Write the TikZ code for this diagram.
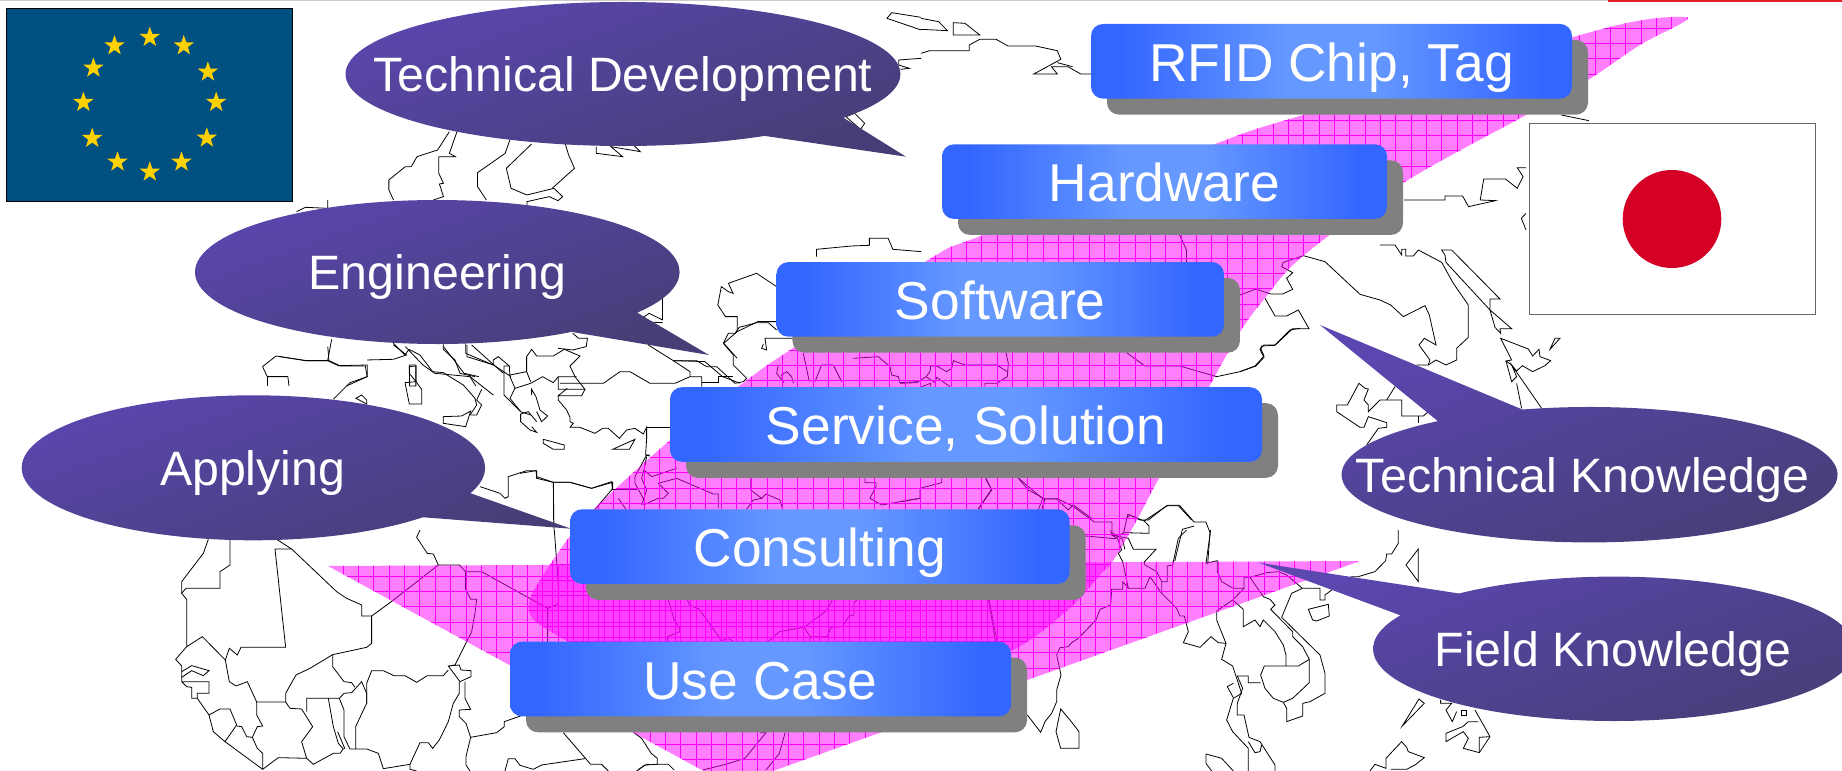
\documentclass[tikz,border=0pt]{standalone}
\usepackage{fontspec}
\setmainfont{Liberation Sans}
\usetikzlibrary{shadows,shapes.geometric}

\definecolor{boxBlue}{RGB}{51,102,255}
\definecolor{boxLight}{RGB}{102,153,255}
\definecolor{boxGray}{RGB}{128,128,128}
\definecolor{bubbleTop}{RGB}{92,70,176}
\definecolor{bubbleBottom}{RGB}{70,62,118}
\definecolor{euBlue}{RGB}{0,80,130}
\definecolor{euGold}{RGB}{255,209,0}
\definecolor{sunRed}{RGB}{213,0,37}
\definecolor{pinkFill}{RGB}{255,0,255}
\definecolor{topGray}{RGB}{204,204,204}
\definecolor{topRed}{RGB}{230,30,40}

\pgfdeclarehorizontalshading{boxramp}{100bp}{color(0bp)=(boxBlue); color(28bp)=(boxBlue); color(46bp)=(boxLight); color(54bp)=(boxLight); color(72bp)=(boxBlue); color(100bp)=(boxBlue)}

\tikzset{
  mapline/.style={line width=0.6pt,black},
  gridline/.style={line width=0.42pt,pinkFill},
  layerbox/.style={shade,shading=boxramp,rounded corners=9pt,inner sep=0pt,text=white,
    font=\fontsize{40}{47}\selectfont,text height=43pt,text depth=13pt,minimum width=#1*0.75pt,
    drop shadow={shadow xshift=12pt,shadow yshift=-12pt,fill=boxGray,opacity=1}},
  bubble/.style={top color=bubbleTop,bottom color=bubbleBottom,shading angle=20},
  bubbletext/.style={anchor=base,inner sep=0pt,text=white,font=\fontsize{36.2}{43}\selectfont},
  eustar/.style={star,star points=5,star point ratio=2.5,fill=euGold,inner sep=0pt,minimum size=16pt}
}

\begin{document}
\begin{tikzpicture}[x=0.75pt,y=0.75pt,yscale=-1,xscale=1]
\useasboundingbox (0,0) rectangle (1842,771);
\clip (0,0) rectangle (1842,771);

%Shape: Map, west Africa
\begin{scope}[shift={(170,530)},scale=0.3333]
\draw [mapline] (115,28)--(100,70)--(35,155)--(35,190)--(50,208)--(50,350)--(97,320)--(166,390)--(178,455)--(198,468)--(232,455)--(260,516)--(347,516)--(347,490)--(378,435)--(420,415)--(488,374);
\draw [mapline] (180,28)--(180,105)--(150,125)--(150,175)--(48,175)--(35,190);
\draw [mapline] (365,57)--(315,57)--(347,352)--(213,352)--(202,375)--(178,355)--(166,390);
\draw [mapline] (320,28)--(365,57)--(500,185)--(530,205)--(575,225)--(575,258)--(605,258)--(660,218)--(805,105)--(868,105)--(887,125)--(935,125)--(1133,235)--(1133,335);
\draw [mapline] (605,258)--(605,340)--(590,352)--(488,374)--(488,410)--(522,455)--(545,458)--(555,472);
\draw [mapline] (1153,0)--(1165,160)--(1165,222)--(1133,235);
\draw [mapline] (750,0)--(740,22)--(772,70)--(790,72)--(805,105);
\draw [mapline] (887,125)--(887,178)--(902,208)--(920,208)--(915,250)--(905,305)--(855,405)--(835,408)--(870,455)--(903,440)--(903,422)--(873,420)--(868,405)--(835,408);
\draw [mapline] (50,350)--(17,388)--(35,408)--(35,455)--(117,455)--(117,490)--(82,490)--(82,505)--(65,505)--(65,472)--(50,470)--(35,455);
\draw [mapline] (35,425)--(65,407)--(117,422)--(100,437)--(65,422)--(35,442);
\draw [mapline] (82,505)--(117,555)--(130,605)--(165,635)--(278,718)--(325,683)--(410,685)--(395,635)--(428,590)--(395,537)--(360,535)--(347,516);
\draw [mapline] (117,555)--(150,537)--(180,537)--(200,585)--(165,635);
\draw [mapline] (200,588)--(215,590)--(230,620)--(247,622)--(262,590)--(278,588)--(260,555)--(260,516);
\draw [mapline] (247,622)--(262,655)--(278,670)--(278,718);
\draw [mapline] (410,685)--(430,703)--(490,670)--(510,670)--(520,657)--(505,640)--(490,590)--(475,505)--(410,505)--(410,545);
\draw [mapline] (475,505)--(508,505)--(522,540)--(522,620)--(540,657)--(590,657)--(625,670)--(640,716)--(720,703)--(750,638)--(775,638)--(788,655)--(808,630)--(835,575)--(850,520)--(868,490)--(868,455);
\draw [mapline] (508,505)--(522,490)--(545,488)--(575,455)--(590,490)--(590,520)--(557,590)--(557,657);
\draw [mapline] (503,605)--(525,657);
\draw [mapline] (590,520)--(590,460)--(605,422)--(640,422)--(672,437)--(705,437)--(740,457)--(772,437)--(820,437)--(835,420);
\draw [mapline] (885,455)--(885,505)--(902,538)--(868,540)--(868,560)--(888,580)--(902,622)--(980,608)--(1003,590)--(1003,575)--(1060,555);
\draw [mapline] (902,622)--(888,680)--(888,705)--(900,723);
\draw [mapline] (1180,608)--(1262,703)--(1295,703)--(1315,723);
\draw [mapline] (1005,723)--(1015,686)--(1035,686)--(1050,706)--(1090,718)--(1115,705)--(1245,686);
\draw [mapline] (720,703)--(720,718)--(740,723);
\draw [mapline] (1400,723)--(1425,705)--(1440,703);
\end{scope}

%Shape: Map, under the lowest box
\begin{scope}[shift={(500,540)},xscale=0.3827,yscale=0.3333]
\draw [mapline] (350,578)--(370,595)--(395,640)--(411,655)--(411,673)--(440,673)--(455,690);
\draw [mapline] (411,673)--(380,675)--(360,690);
\draw [mapline] (680,578)--(695,578)--(640,655)--(590,673)--(530,690);
\draw [mapline] (745,578)--(730,640)--(695,690);
\draw [mapline] (440,180)--(455,240)--(470,265)--(470,275)--(438,290)--(438,305);
\draw [mapline] (490,180)--(495,195)--(520,207)--(575,295)--(575,305)--(595,293)--(610,305);
\draw [mapline] (700,305)--(730,275)--(795,262)--(855,210)--(868,180);
\draw [mapline] (795,262)--(810,290)--(810,305);
\draw [mapline] (810,290)--(855,290)--(865,262)--(895,260)--(912,228)--(925,225)--(925,190)--(932,180);
\draw [mapline] (1278,180)--(1300,310);
\end{scope}

%Shape: Map, south east Asia
\begin{scope}[shift={(1020,530)},scale=0.3333]
\draw [mapline] (22,555)--(62,607)--(75,575)--(95,550)--(110,515)--(110,480)--(123,435)--(110,375)--(120,353)--(145,350)--(155,338)--(175,325)--(228,270)--(240,238)--(272,225)--(275,178)--(308,178)--(308,155)--(325,175)--(375,175)--(390,140)--(425,190)--(470,235)--(480,258)--(493,258)--(505,305)--(490,338)--(540,352)--(573,320)--(595,338)--(618,340)--(605,388)--(638,408)--(665,490)--(640,505)--(620,570)--(638,605)--(685,655)--(685,723);
\draw [mapline] (425,190)--(425,155)--(442,155)--(442,108)--(458,105)--(475,25)--(500,0);
\draw [mapline] (272,0)--(275,15)--(292,25)--(305,60)--(295,70)--(308,95)--(325,175);
\draw [mapline] (275,15)--(325,25)--(340,58)--(408,58)--(372,97)--(375,105)--(410,125)--(408,105);
\draw [mapline] (410,125)--(425,155);
\draw [mapline] (572,0)--(558,100)--(592,92)--(592,125)--(605,155)--(640,175)--(672,175)--(638,210)--(590,243)--(590,270)--(618,340);
\draw [mapline] (638,210)--(670,238)--(670,290)--(705,270)--(720,290)--(730,270)--(765,305)--(790,345)--(798,375)--(798,408)--(835,408)--(868,388)--(868,458)--(818,505)--(790,517)--(760,505)--(735,475)--(722,435)--(733,408)--(798,408);
\draw [mapline] (672,175)--(672,142)--(690,142)--(740,128)--(775,125)--(800,135)--(847,175)--(900,175)--(900,210)--(915,210)--(915,195)--(938,178)--(995,140)--(1015,140)--(1065,125)--(1097,92)--(1100,72)--(1115,72)--(1135,40)--(1135,0);
\draw [mapline] (690,142)--(730,200)--(750,208)--(765,225)--(752,238)--(818,305)--(818,320)--(848,350)--(868,388);
\draw [mapline] (847,175)--(815,190)--(785,262)--(900,375)--(915,430)--(915,490)--(870,515)--(848,520)--(848,558)--(800,575)--(800,535)--(790,517);
\draw [mapline] (722,458)--(685,458)--(685,438)--(652,438)--(668,475)--(652,520)--(652,555)--(672,555)--(687,622)--(720,635)--(765,705)--(765,723);
\draw [mapline] (640,503)--(622,470)--(640,460);
\draw [mapline] (685,635)--(705,668)--(720,665)--(725,645);
\draw [mapline] (122,537)--(150,570)--(177,605)--(177,655)--(122,655)--(108,605)--cycle;
\draw [mapline] (865,238)--(925,223)--(928,258)--(890,273)--(878,270)--cycle;
\draw [mapline] (1195,57)--(1158,105)--(1195,155)--cycle;
\draw [mapline] (558,672)--(605,685)--(640,723);
\draw [mapline] (558,672)--(558,700)--(575,723);
\draw [mapline] (1147,588)--(1197,507)--(1213,520)--cycle;
\draw [mapline] (1050,723)--(1065,703)--(1098,715)--(1098,685)--(1145,635)--(1160,652)--(1165,665)--(1213,683)--(1185,705)--(1160,718)--(1112,718);
\draw [mapline] (1262,510)--(1262,520)--(1295,520)--(1278,540)--(1297,575)--(1310,545);
\draw [mapline] (1325,540)--(1340,540)--(1340,555)--(1325,555)--cycle;
\draw [mapline] (1365,540)--(1410,620)--(1378,668)--(1330,655)--(1345,625)--(1330,605)--(1278,635)--(1278,610)--(1328,590)--(1345,575)--(1375,575);
\draw [mapline] (1410,620)--(1378,622)--(1378,668);
\end{scope}

%Shape: Map, China and Japan
\begin{scope}[shift={(1240,230)},scale=0.3333]
\draw [mapline] (420,45)--(465,45)--(485,75)--(485,58)--(497,58)--(497,78)--(520,78)--(535,60)--(605,97)--(640,160)--(685,225)--(685,322)--(650,355)--(650,390)--(618,405)--(588,390)--(565,405)--(530,405);
\draw [mapline] (565,405)--(570,390)--(537,345)--(553,325)--(588,345)--(568,255)--(555,227)--(490,260)--(452,225)--(420,210)--(360,193)--(255,95)--(190,77)--(130,97)--(125,110)--(158,128)--(140,145)--(158,178)--(128,192)--(92,192)--(48,177)--(0,195);
\draw [mapline] (75,205)--(105,258)--(140,258)--(175,240)--(207,296)--(158,296)--(105,346)--(65,348)--(62,355)--(72,378)--(45,408)--(0,425);
\draw [mapline] (605,60)--(635,60)--(780,207)--(750,207)--(750,240)--(765,292)--(782,310)--(780,296)--(815,296)--(750,240)--(618,97)--(615,75)--cycle;
\draw [mapline] (782,325)--(865,357)--(878,378)--(897,358)--(900,380)--(932,392)--(915,407)--(878,425)--(847,407)--(830,423)--(815,405)--(798,393)--(815,390)--cycle;
\draw [mapline] (798,393)--(815,455)--(830,440)--(815,405)--(905,535);
\draw [mapline] (830,460)--(845,535);
\draw [mapline] (930,358)--(945,325)--(960,325)--cycle;
\draw [mapline] (290,525)--(322,525)--(357,460)--(375,475)--(385,477)--(372,510)--(385,525)--(385,545)--(420,510)--(485,510)--(485,558)--(550,558)--(565,545);
\draw [mapline] (440,510)--(465,470);
\draw [mapline] (535,520)--(550,530);
\draw [mapline] (290,525)--(290,545)--(360,592)--(372,592)--(385,560)--(440,578)--(440,592)--(415,595)--(380,645);
\draw [mapline] (535,558)--(535,580);
\end{scope}

%Shape: Map, Korea strip and lines beside the middle boxes
\begin{scope}[shift={(900,320)},scale=0.3333]
\draw [mapline] (680,98)--(735,138)--(840,138)--(950,170)--(1020,155)--(1068,138)--(1092,112)--(1080,88)--(1092,75)--(1125,75)--(1170,30)--(1200,25);
\draw [mapline] (318,98)--(325,130)--(322,170)--(290,190)--(255,190)--(255,200);
\draw [mapline] (322,155)--(290,135)--(195,135)--(160,122)--(155,145)--(140,155)--(110,138)--(92,138)--(90,155)--(78,170)--(50,188)--(0,190);
\draw [mapline] (78,170)--(105,188)--(110,172)--(150,200);
\draw [mapline] (65,200)--(92,190)--(92,200);
\draw [mapline] (258,475)--(275,510)--(235,568);
\draw [mapline] (355,475)--(385,510)--(435,537)--(470,537)--(505,570)--(520,555)--(575,595);
\draw [mapline] (435,537)--(425,568);
\draw [mapline] (125,473)--(125,488)--(60,505)--(60,535)--(0,545);
\draw [mapline] (680,595)--(690,585)--(720,600)--(745,600)--(800,557)--(835,557)--(875,600);
\end{scope}

%Shape: Map, Bhutan and Burma
\begin{scope}[shift={(921,386)},xscale=0.5874,yscale=0.3333]
\draw [mapline] (352,385)--(345,440)--(388,442)--(388,420)--(380,405)--cycle;
\draw [mapline] (380,405)--(420,358)--(440,358)--(465,408)--(485,408)--(492,440)--(488,535);
\draw [mapline] (465,420)--(445,430)--(432,525);
\draw [mapline] (207,338)--(232,338)--(258,360)--(295,408)--(325,408)--(325,440)--(343,460)--(347,490);
\draw [mapline] (165,275)--(207,338)--(200,370);
\draw [mapline] (110,278)--(120,310)--(97,370);
\draw [mapline] (280,450)--(330,458)--(345,440);
\draw [mapline] (115,640)--(127,768);
\end{scope}

%Shape: Map, Turkey, Caspian and Arabia
\begin{scope}[shift={(520,320)},scale=0.3333]
\draw [mapline] (385,75)--(460,122)--(530,122)--(560,140)--(590,140)--(645,190)--(670,185)--(680,175);
\draw [mapline] (595,190)--(595,170)--(640,170);
\draw [mapline] (460,122)--(510,155)--(510,170)--(545,170)--(545,200);
\draw [mapline] (545,188)--(595,188);
\draw [mapline] (120,190)--(250,190)--(300,155)--(330,155)--(390,190)--(465,190)--(510,170);
\draw [mapline] (610,70)--(625,40)--(645,40)--(658,22)--(710,8)--(745,8)--(770,30);
\draw [mapline] (610,70)--(640,105)--(640,135)--(680,175);
\draw [mapline] (730,72)--(725,85)--(740,90)--(735,55)--(820,55);
\draw [mapline] (850,100)--(868,185);
\draw [mapline] (775,135)--(770,160)--(790,185)--(785,165)--(800,155)--(815,170)--(820,190);
\draw [mapline] (885,185)--(905,135)--(940,135)--(965,185);
\draw [mapline] (1000,115)--(1075,110)--(1110,140)--(1115,165)--(1135,170)--(1140,188)--(1195,185);
\draw [mapline] (390,405)--(380,405)--(345,470)--(345,490)--(375,545);
\draw [mapline] (380,410)--(372,450)--(395,470)--(470,445);
\draw [mapline] (372,450)--(365,475)--(380,510)--(365,555);
\draw [mapline] (415,490)--(470,475)--(580,522)--(595,522)--(595,565);
\draw [mapline] (415,490)--(445,520)--(430,535)--(415,535)--(370,555);
\draw [mapline] (275,507)--(350,507);
\draw [mapline] (0,460)--(48,452)--(50,470)--(100,487)--(150,487)--(215,505)--(275,485)--(277,507)--(225,568);
\draw [mapline] (100,487)--(100,600);
\draw [mapline] (295,535)--(318,568);
\draw [mapline] (692,475)--(692,510)--(725,535)--(700,540)--(680,568);
\draw [mapline] (725,535)--(738,522)--(780,540)--(788,568);
\draw [mapline] (1035,475)--(1035,488)--(1068,488)--(1068,500)--(1050,535)--(1085,555)--(1200,535);
\end{scope}

%Shape: Map, Mediterranean
\begin{scope}[shift={(280,330)},scale=0.3333]
\draw [mapline] (0,80)--(80,92)--(143,92)--(175,107)--(262,105)--(262,140)--(210,158)--(160,208);
\draw [mapline] (155,28)--(143,92);
\draw [mapline] (340,40)--(375,75)--(387,58)--(420,75)--(458,125)--(490,128)--(550,165)--(585,205)--(590,225)--(570,255);
\draw [mapline] (388,105)--(408,105)--(408,155)--(388,130)--cycle;
\draw [mapline] (375,158)--(408,155)--(425,178)--(425,222)--(388,222)--cycle;
\draw [mapline] (228,205)--(245,195)--(260,210)--(260,222)--cycle;
\draw [mapline] (490,40)--(490,58)--(525,90)--(540,130)--(585,140);
\draw [mapline] (570,140)--(640,195);
\draw [mapline] (605,178)--(590,210)--(605,225)--(590,255)--(572,255);
\draw [mapline] (490,260)--(545,258)--(572,243)--(557,290)--(490,280)--cycle;
\draw [mapline] (557,40)--(557,70)--(640,105);
\draw [mapline] (575,45)--(670,130);
\draw [mapline] (640,105)--(640,90)--(655,80)--(688,108)--(672,108)--(672,195)--(722,245);
\draw [mapline] (688,108)--(690,140)--(705,175)--(690,205)--(722,245)--(752,255);
\draw [mapline] (690,135)--(740,125)--(752,155);
\draw [mapline] (705,175)--(752,160)--(788,140)--(820,158)--(835,140)--(890,140);
\draw [mapline] (740,125)--(740,80)--(755,58)--(770,78)--(820,78)--(853,58)--(900,78)--(870,108)--(885,140)--(915,178)--(835,178)--(835,140);
\draw [mapline] (915,178)--(905,197)--(835,197)--(862,175);
\draw [mapline] (835,197)--(835,210)--(860,240)--(870,262)--(870,275)--(880,280)--(870,292)--(900,292)--(945,310)--(968,295)--(985,295)--(1018,325)--(1040,300)--(1065,295)--(1090,312)--(1100,292)--(1100,325)--(1097,375)--(1110,378);
\draw [mapline] (1100,292)--(1170,292);
\draw [mapline] (998,358)--(1065,328)--(1048,358)--cycle;
\draw [mapline] (790,328)--(853,345)--(853,358)--(820,358)--(790,340)--cycle;
\draw [mapline] (755,195)--(755,178)--(768,200)--(780,240)--(803,258)--(785,275)--(770,245);
\draw [mapline] (722,252)--(745,245)--(770,275);
\draw [mapline] (722,252)--(722,275)--(750,300)--(770,307)--(755,290);
\draw [mapline] (600,470)--(660,490)--(675,505)--(685,500)--(685,440)--(740,422)--(770,422)--(770,445)--(820,457)--(870,457)--(935,475)--(998,457)--(998,480);
\draw [mapline] (820,457)--(822,600);
\end{scope}

%Shape: Map, north Europe and Russia
\begin{scope}[shift={(0,0)},xscale=0.5874,yscale=0.3333]
\draw [mapline] (1568,90)--(1510,55)--(1518,38)--(1568,52);
\draw [mapline] (1568,175)--(1530,180)--(1530,195)--(1548,205)--(1533,208);
\draw [mapline] (1440,350)--(1455,340)--(1472,370)--(1465,388)--cycle;
\draw [mapline] (1015,440)--(1015,460)--(1060,470)--(1040,440)--(1090,455)--(1080,438);
\draw [mapline] (765,395)--(745,450)--(710,470)--(700,500)--(690,500)--(662,540)--(662,570)--(670,600);
\draw [mapline] (778,395)--(765,460)--(775,470)--(747,470)--(747,520)--(755,550)--(748,552)--(755,590)--(738,600);
\draw [mapline] (868,420)--(860,460)--(813,518)--(813,560)--(828,600);
\draw [mapline] (905,432)--(862,505)--(870,565)--(897,585)--(943,565)--(958,590)--(950,602)--(935,590)--(897,605)--(897,620);
\draw [mapline] (962,430)--(968,465)--(978,505)--(940,565);
\draw [mapline] (558,600)--(558,625)--(520,622)--(505,635);
\draw [mapline] (1390,770)--(1390,748)--(1450,738)--(1480,736)--(1480,715)--(1512,715)--(1520,748)--(1568,755);
\draw [mapline] (447,1100)--(470,1068)--(520,1082)--(560,1082)--(558,1040);
\draw [mapline] (560,1082)--(580,1098)--(622,1098)--(625,1130)--(590,1158);
\draw [mapline] (625,1080)--(670,1078)--(692,1065)--(670,1035);
\draw [mapline] (447,1100)--(455,1130)--(490,1130)--(492,1158);
\draw [mapline] (455,1130)--(455,1158);
\draw [mapline] (697,1100)--(708,1098)--(708,1158)--(697,1158)--cycle;
\draw [mapline] (690,1040)--(720,1095)--(740,1120)--(800,1130)--(810,1158);
\draw [mapline] (755,1040)--(775,1085)--(790,1120)--(815,1130);
\draw [mapline] (795,1035)--(795,1070)--(840,1095)--(870,1130);
\draw [mapline] (1222,915)--(1228,860)--(1240,875)--(1248,880)--(1240,850)--(1288,820)--(1322,860);
\draw [mapline] (1222,915)--(1235,950)--(1255,950)--(1255,995)--(1232,1030)--(1255,1075);
\draw [mapline] (1255,995)--(1290,965)--(1322,965);
\draw [mapline] (1148,1082)--(1200,1085)--(1230,1130)--(1260,1150);
\draw [mapline] (1128,895)--(1128,960)--(1105,940)--(1085,965)--(1128,968);
\draw [mapline] (975,1000)--(985,1015)--(1000,1015)--(998,1040)--(975,1050)--(950,1045);
\end{scope}

%Shape: Map, top right
\begin{scope}[shift={(921,0)},xscale=0.5874,yscale=0.3333]
\draw [mapline] (0,55)--(30,65)--(45,92)--(0,88);
\draw [mapline] (55,68)--(75,70)--(100,105)--(55,105)--cycle;
\draw [mapline] (0,160)--(15,152)--(82,152)--(82,135)--(100,118)--(128,118)--(148,138)--(195,138)--(232,152)--(238,178)--(192,222)--(232,222)--(222,200)--(250,200)--(272,222)--(290,222);
\draw [mapline] (232,188)--(258,200);
\draw [mapline] (1090,345)--(1137,362);
\draw [mapline] (822,600)--(892,600)--(892,588)--(922,588)--(932,620)--(978,602)--(952,600)--(958,537)--(995,537)--(1015,565)--(1025,530)--(1015,503)--(1030,503);
\draw [mapline] (1030,640)--(1022,655)--(1030,690);
\draw [mapline] (440,705)--(452,750)--(452,790);
\end{scope}

%Shape: Pink triangle
\path [fill=pinkFill,fill opacity=0.5] (328,566) -- (1360,561) -- (731,786) -- cycle ;
\begin{scope}
\clip (328,566) -- (1360,561) -- (731,786) -- cycle ;
\foreach \gx in {0,...,68} \draw [gridline] ({312.3+15.35*\gx},540) -- ++(0,260);
\foreach \gy in {0,...,15} \draw [gridline] (300,{560.7+15.3*\gy}) -- ++(1100,0);
\end{scope}

%Shape: Pink swoosh
\newcommand{\swooshline}{plot [smooth cycle,tension=0.55] coordinates {(567,641) (620,668) (720,685) (830,690) (930,675) (1013,650) (1070,608) (1100,575) (1115,558) (1138,518) (1158,480) (1210,385) (1240,332) (1265,298) (1303,256) (1403,183) (1526,115) (1588,80) (1640,45) (1682,23) (1685,17) (1643,20) (1573,37) (1303,115) (1215,144) (983,235) (933,257) (793,348) (747,380) (668,442) (595,508) (570,536) (540,580) (529,603) (534,620)}}
\path [fill=pinkFill,fill opacity=0.5] \swooshline ;
\begin{scope}
\clip \swooshline ;
\foreach \gx in {0,...,78} \draw [gridline] ({506.4+15.33*\gx},0) -- ++(0,771);
\foreach \gy in {0,...,46} \draw [gridline] (500,{12.6+15.33*\gy}) -- ++(1220,0);
\end{scope}

%Shape: Flags
\draw [fill=euBlue,line width=0.75pt] (6,8.3) rectangle (292.5,201.7) ;
\foreach \sx/\sy [count=\i] in {149.8/37.3,183.8/45.7,207.9/72,216.2/102.3,206.8/138,181.5/162,149.8/172,117.5/162,92.2/138.3,83.4/102.3,93.4/68,114.5/45.7}
  \node (star\i) [eustar] at (\sx,\sy) {};
\draw [fill=white,draw=black!60,line width=0.75pt] (1529,123.3) rectangle (1815.6,314.3) ;
\fill [sunRed] (1672,219) ellipse [x radius=49.3,y radius=49] ;

%Shape: Layer boxes
\node (rfidBox) [layerbox=481] at (1331.5,61.3) {RFID Chip, Tag};
\node (hardwareBox) [layerbox=445] at (1164.5,181.6) {Hardware};
\node (softwareBox) [layerbox=447.5] at (1000.2,299.4) {Software};
\node (serviceBox) [layerbox=592] at (966,424.5) {Service, Solution};
\node (consultingBox) [layerbox=499.6] at (819.8,546.6) {Consulting};
\node (usecaseBox) [layerbox=501] at (760.5,679) {Use Case};

%Shape: Speech bubbles
\shade [bubble] (623,74) ++(59.3:277.5 and 72) arc [start angle=59.3,end angle=397.4,x radius=277.5,y radius=72] -- (906,156.7) -- cycle ;
\shade [bubble] (437.3,272) ++(56.3:242.3 and 72) arc [start angle=56.3,end angle=394.4,x radius=242.3,y radius=72] -- (709,355) -- cycle ;
\shade [bubble] (253.4,467.8) ++(43:231.7 and 72.5) arc [start angle=43,end angle=380.5,x radius=231.7,y radius=72.5] -- (571,528.7) -- cycle ;
\shade [bubble] (1589.5,474.7) ++(254.3:248 and 67.7) arc [start angle=254.3,end angle=592.3,x radius=248,y radius=67.7] -- (1320,325) -- cycle ;
\shade [bubble] (1614,648.8) ++(230:241 and 72.2) arc [start angle=230,end angle=567.6,x radius=241,y radius=72.2] -- (1258.7,562.7) -- cycle ;

% Text Node
\node (developmentText) [bubbletext] at (623,91.5) {Technical Development};
% Text Node
\node (engineeringText) [bubbletext] at (437.6,289.3) {Engineering};
% Text Node
\node (applyingText) [bubbletext] at (252.6,485.3) {Applying};
% Text Node
\node (knowledgeText) [bubbletext] at (1582.7,492) {Technical Knowledge};
% Text Node
\node (fieldText) [bubbletext] at (1613,666) {Field Knowledge};

%Straight Lines
\fill [topGray] (0,0) rectangle (1608,1.2) ;
\fill [topRed] (1608,0) rectangle (1842,1.5) ;

\end{tikzpicture}
\end{document}
